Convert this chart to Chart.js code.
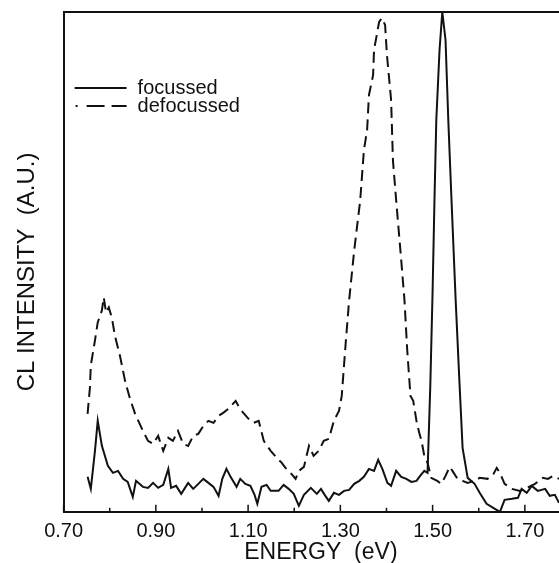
<!DOCTYPE html>
<html>
<head>
<meta charset="utf-8">
<script src="https://cdn.jsdelivr.net/npm/chart.js@4.4.0/dist/chart.umd.min.js"></script>
<style>
  html, body { margin: 0; padding: 0; background: #fff; }
  #wrap { width: 559px; height: 563px; position: relative; }
</style>
</head>
<body>
<div id="wrap"><canvas id="clChart"></canvas></div>
<script>
// energies (eV) and intensities (arbitrary units, 0-100)
const focE = [0.752, 0.759, 0.768, 0.774, 0.783, 0.796, 0.807, 0.818, 0.829, 0.839, 0.850, 0.857, 0.872, 0.883, 0.894, 0.905, 0.916, 0.927, 0.933, 0.944, 0.955, 0.970, 0.981, 0.992, 1.003, 1.014, 1.025, 1.036, 1.044, 1.053, 1.062, 1.075, 1.083, 1.094, 1.105, 1.114, 1.120, 1.129, 1.140, 1.149, 1.166, 1.177, 1.188, 1.199, 1.210, 1.221, 1.236, 1.249, 1.258, 1.266, 1.275, 1.286, 1.297, 1.308, 1.319, 1.330, 1.341, 1.351, 1.362, 1.373, 1.382, 1.391, 1.402, 1.410, 1.421, 1.432, 1.443, 1.454, 1.465, 1.473, 1.482, 1.489, 1.495, 1.500, 1.504, 1.508, 1.515, 1.521, 1.528, 1.534, 1.541, 1.550, 1.558, 1.565, 1.576, 1.591, 1.602, 1.617, 1.635, 1.646, 1.656, 1.672, 1.685, 1.693, 1.704, 1.715, 1.728, 1.744, 1.754, 1.765, 1.774];
const focI = [7.0, 4.6, 12.2, 18.2, 13.2, 9.2, 7.8, 8.2, 6.6, 6.0, 3.0, 6.2, 5.0, 4.8, 5.8, 4.8, 5.4, 8.6, 4.8, 5.2, 3.6, 5.8, 4.6, 5.6, 6.6, 5.8, 5.0, 3.2, 6.6, 8.6, 7.0, 5.0, 6.6, 5.6, 5.2, 3.4, 1.6, 5.0, 5.4, 4.2, 4.2, 5.4, 4.6, 3.6, 1.2, 3.4, 4.8, 3.6, 4.6, 3.4, 2.2, 3.8, 3.4, 4.2, 4.4, 5.6, 6.2, 7.0, 8.6, 8.2, 10.4, 8.6, 5.8, 5.2, 8.2, 7.0, 6.6, 6.0, 6.2, 7.2, 8.2, 7.8, 25.3, 44.3, 62.3, 78.4, 92.4, 100, 94.4, 78.4, 62.3, 42.3, 26.3, 12.8, 6.8, 5.6, 3.8, 1.6, 0.6, 0, 2.4, 2.6, 2.8, 4.6, 3.8, 5.2, 4.2, 4.6, 3.2, 3.4, 1.8];

const defE = [0.752, 0.757, 0.759, 0.768, 0.774, 0.783, 0.787, 0.792, 0.798, 0.805, 0.811, 0.822, 0.833, 0.844, 0.855, 0.872, 0.883, 0.894, 0.905, 0.916, 0.927, 0.937, 0.948, 0.959, 0.970, 0.981, 0.992, 1.003, 1.014, 1.025, 1.036, 1.046, 1.057, 1.073, 1.079, 1.086, 1.101, 1.112, 1.123, 1.134, 1.149, 1.164, 1.173, 1.181, 1.192, 1.203, 1.210, 1.221, 1.232, 1.242, 1.253, 1.264, 1.275, 1.286, 1.297, 1.303, 1.312, 1.319, 1.330, 1.343, 1.351, 1.358, 1.362, 1.371, 1.373, 1.384, 1.390, 1.397, 1.401, 1.410, 1.414, 1.421, 1.432, 1.439, 1.445, 1.452, 1.458, 1.465, 1.471, 1.476, 1.482, 1.489, 1.497, 1.510, 1.519, 1.528, 1.537, 1.543, 1.554, 1.565, 1.576, 1.591, 1.602, 1.619, 1.632, 1.639, 1.646, 1.656, 1.672, 1.689, 1.700, 1.722, 1.739, 1.750, 1.761, 1.774];
const defI = [19.6, 24.8, 29.3, 34.3, 37.9, 40.3, 42.9, 39.9, 40.9, 38.7, 35.3, 31.3, 26.3, 22.6, 19.6, 16.2, 14.2, 13.6, 15.2, 12.2, 14.8, 14.2, 16.2, 13.6, 13.2, 15.2, 15.6, 17.2, 18.2, 17.8, 19.2, 19.8, 20.6, 22.2, 21.2, 20.2, 18.6, 17.8, 18.2, 14.2, 12.2, 10.6, 9.8, 8.8, 7.8, 6.6, 8.2, 9.0, 13.2, 11.2, 12.2, 14.2, 14.6, 18.2, 20.2, 23.2, 34.3, 42.3, 52.3, 62.3, 72.3, 76.4, 83.4, 87.4, 92.4, 98.0, 98.8, 97.4, 91.4, 82.4, 70.3, 62.3, 50.3, 42.3, 32.3, 23.2, 22.2, 18.2, 15.8, 14.2, 11.2, 9.8, 6.8, 6.2, 5.6, 7.2, 9.0, 8.2, 6.6, 6.2, 5.8, 6.2, 6.8, 6.6, 7.6, 8.8, 7.8, 5.6, 4.6, 4.2, 4.6, 5.6, 6.8, 6.6, 7.2, 6.6];

const xMin = 0.70, xMax = 1.774, xStep = 0.1;
const seriesNames = ["focussed", "defocussed"];

const ink = "#111";
const fontFam = "'Liberation Sans', Arial, sans-serif";

function toPoints(xs, ys) {
    return xs.map((x, i) => ({ x: x, y: ys[i] }));
}

// frame top line, inward tick marks on the energy axis, and the legend
const extras = {
    id: "extras",
    afterDraw(chart) {
        const c = chart.ctx;
        const a = chart.chartArea;
        const xs = chart.scales.x;
        c.save();
        c.strokeStyle = ink;
        c.lineWidth = 2;
        c.beginPath();
        c.moveTo(a.left, a.top);
        c.lineTo(a.right, a.top);
        c.stroke();

        // tick marks pointing up into the plot
        c.lineWidth = 1.5;
        xs.ticks.forEach(t => {
            const k = Math.round((t.value - xMin) / xStep);
            const px = xs.getPixelForValue(t.value);
            const len = k % 2 === 0 ? 7 : 4;
            c.beginPath();
            c.moveTo(px, a.bottom);
            c.lineTo(px, a.bottom - len);
            c.stroke();
        });

        // legend
        const lx = a.left + 11, ly1 = a.top + 76, ly2 = a.top + 94;
        c.lineWidth = 2;
        c.beginPath();
        c.moveTo(lx, ly1);
        c.lineTo(lx + 52, ly1);
        c.stroke();
        c.beginPath();
        c.moveTo(lx + 1, ly2); c.lineTo(lx + 3, ly2);
        c.moveTo(lx + 12, ly2); c.lineTo(lx + 30, ly2);
        c.moveTo(lx + 37, ly2); c.lineTo(lx + 52, ly2);
        c.stroke();
        c.fillStyle = ink;
        c.font = "20px " + fontFam;
        c.textBaseline = "middle";
        c.fillText(seriesNames[0], lx + 63, ly1);
        c.fillText(seriesNames[1], lx + 63, ly2);
        c.restore();
    }
};

const ctx = document.getElementById("clChart").getContext("2d");

new Chart(ctx, {
    type: "scatter",
    data: {
        datasets: [
            {
                label: seriesNames[0],
                data: toPoints(focE, focI),
                showLine: true,
                borderColor: ink,
                borderWidth: 2,
                pointRadius: 0,
                tension: 0
            },
            {
                label: seriesNames[1],
                data: toPoints(defE, defI),
                showLine: true,
                borderColor: ink,
                borderWidth: 2,
                borderDash: [11, 6],
                pointRadius: 0,
                tension: 0
            }
        ]
    },
    options: {
        responsive: true,
        maintainAspectRatio: false,
        animation: false,
        layout: { padding: { left: 10, top: 12, right: 0, bottom: 10 } },
        plugins: {
            legend: { display: false },
            tooltip: { enabled: false }
        },
        scales: {
            x: {
                type: "linear",
                min: xMin,
                max: xMax,
                border: { display: true, color: ink, width: 2 },
                grid: { display: false, drawTicks: false },
                ticks: {
                    stepSize: xStep,
                    includeBounds: false,
                    autoSkip: false,
                    maxRotation: 0,
                    padding: 10,
                    color: ink,
                    font: { family: fontFam, size: 20, lineHeight: 1 },
                    callback: function (v) {
                        const k = Math.round((v - xMin) / xStep);
                        return k % 2 === 0 ? v.toFixed(2) : "";
                    }
                },
                title: {
                    display: true,
                    text: "   ENERGY  (eV)",
                    color: ink,
                    padding: { top: 0, bottom: 0 },
                    font: { family: fontFam, size: 23, lineHeight: 0.05 }
                }
            },
            y: {
                min: 0,
                max: 100,
                border: { display: true, color: ink, width: 2 },
                grid: { display: false, drawTicks: false },
                ticks: { display: false },
                title: {
                    display: true,
                    text: "CL INTENSITY  (A.U.)   ",
                    color: ink,
                    padding: { top: 4, bottom: 22 },
                    font: { family: fontFam, size: 24, lineHeight: 1.15 }
                }
            }
        }
    },
    plugins: [extras]
});
</script>
</body>
</html>
